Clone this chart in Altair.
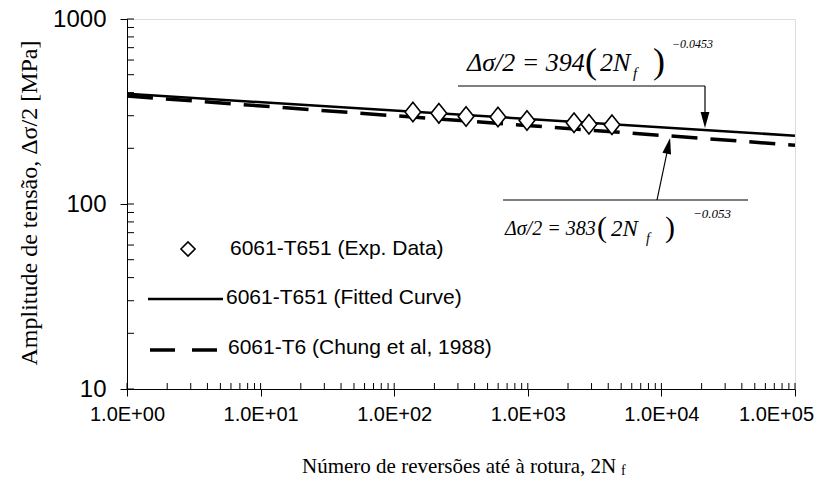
import altair as alt
import pandas as pd

# ---------------- data ----------------
exp_cycles = [138, 216, 345, 598, 986, 2218, 2870, 4266]
exp_stress = [314, 309, 297, 295, 283, 275, 270, 268]

line_cycles = [1, 100000]
fitted_stress = [394, 234]     # 6061-T651 fitted curve
t6_stress = [383, 208]         # 6061-T6 (Chung et al, 1988)

x_major = [1, 10, 100, 1000, 10000, 100000]
y_major = [10, 100, 1000]
x_minor = [k * 10 ** d for d in range(5) for k in range(2, 10)]
y_minor = [k * 10 ** d for d in range(1, 3) for k in range(2, 10)]

legend_labels = ["6061-T651 (Exp. Data)", "6061-T651 (Fitted Curve)", "6061-T6 (Chung et al, 1988)"]
x_title = "Número de reversões até à rotura, 2N"
y_title = "Amplitude de tensão, Δσ/2 [MPa]"

W, H = 668, 370
SANS = "Liberation Sans"
SERIF = "Liberation Serif"

xs = alt.Scale(type="log", domain=[1, 100000])
ys = alt.Scale(type="log", domain=[10, 1000])

xaxis = alt.Axis(values=x_major, labelExpr="'1.0E+0' + round(log(datum.value)/LN10)",
                 tickSize=7, labelFontSize=20, labelFont=SANS, labelColor="black",
                 domainColor="black", tickColor="black", title=None, grid=False,
                 labelPadding=8, labelFlush=False, labelOverlap=False,
                 labelOffset={"condition": {"test": "datum.value >= 100000", "value": -19}, "value": 0})
yaxis = alt.Axis(values=y_major, format="d", tickSize=7, labelFontSize=24, labelFont=SANS,
                 labelColor="black", domainColor="black", tickColor="black", title=None,
                 grid=False, labelPadding=14)

fit_df = pd.DataFrame({"n": line_cycles, "s": fitted_stress})
t6_df = pd.DataFrame({"n": line_cycles, "s": t6_stress})
exp_df = pd.DataFrame({"n": exp_cycles, "s": exp_stress})

fit_line = alt.Chart(fit_df).mark_line(color="black", strokeWidth=2.5).encode(
    x=alt.X("n:Q", scale=xs, axis=xaxis), y=alt.Y("s:Q", scale=ys, axis=yaxis))
t6_line = alt.Chart(t6_df).mark_line(color="black", strokeWidth=3.5, strokeDash=[26, 13]).encode(
    x=alt.X("n:Q", scale=xs), y=alt.Y("s:Q", scale=ys))

DIAMOND = "M-0.8,0L0,-1L0.8,0L0,1Z"
points = alt.Chart(exp_df).mark_point(shape=DIAMOND, size=380, filled=True, fill="white",
                                      stroke="black", strokeWidth=1.6, opacity=1).encode(
    x=alt.X("n:Q", scale=xs), y=alt.Y("s:Q", scale=ys))

# inward ticks
xt_df = pd.DataFrame({"v": x_major + x_minor})
yt_df = pd.DataFrame({"v": y_major + y_minor})
xticks_in = alt.Chart(xt_df).mark_rule(color="black", strokeWidth=1).encode(
    x=alt.X("v:Q", scale=xs), y=alt.value(H), y2=alt.value(H - 6))
yticks_in = alt.Chart(yt_df).mark_rule(color="black", strokeWidth=1).encode(
    y=alt.Y("v:Q", scale=ys), x=alt.value(0), x2=alt.value(7))

base = alt.Chart(pd.DataFrame({"a": [0]}))


def txt(t, x, y, size, font=SANS, style="normal", align="left", angle=0, baseline="middle"):
    kw = dict(text=t, fontSize=size, font=font, fontStyle=style, align=align,
              baseline=baseline, color="black")
    if angle:
        kw["angle"] = angle
    return base.mark_text(**kw).encode(x=alt.value(x), y=alt.value(y))


def rule(x1, y1, x2, y2, w=1.2):
    return base.mark_rule(color="black", strokeWidth=w).encode(
        x=alt.value(x1), y=alt.value(y1), x2=alt.value(x2), y2=alt.value(y2))


def head(x, y, angle):
    return base.mark_point(shape="M-0.55,1L0.55,1L0,-1Z", size=256, filled=True, color="black",
                           opacity=1, angle=angle).encode(x=alt.value(x), y=alt.value(y))


def equation(x0, y0, coef, expo, fs, fs2, ps, ss, sup_s, off):
    o_par, o_2n, o_f, o_close, o_sup, dy_sup = off
    return [
        txt("Δσ/2 = " + coef, x0, y0, fs, SERIF, "italic"),
        txt("(", x0 + o_par, y0 - 1, ps, SERIF),
        txt("2N", x0 + o_2n, y0, fs2, SERIF, "italic"),
        txt("f", x0 + o_f, y0 + 10, ss, SERIF, "italic"),
        txt(")", x0 + o_close, y0 - 1, ps, SERIF),
        txt(expo, x0 + o_sup, y0 + dy_sup, sup_s, SERIF, "italic"),
    ]


annotations = []
annotations += equation(340, 44, "394", "−0.0453", 26, 26, 36, 15, 12, (118, 133, 166, 186, 205, -19))
annotations += [rule(331, 67, 578, 67), rule(578, 67, 578, 100), head(578, 101, 180)]
annotations += equation(378, 210, "383", "−0.053", 20, 23, 30, 14, 13, (92, 106, 141, 160, 188, -15))
annotations += [rule(376, 181, 621, 181), rule(530, 181, 542, 124), head(541.4, 126.8, 12)]

# legend
legend = [
    base.mark_point(shape="diamond", size=200, filled=True, fill="white", stroke="black",
                    strokeWidth=1.6, opacity=1).encode(x=alt.value(61), y=alt.value(230)),
    txt(legend_labels[0], 103, 230, 21),
    rule(21, 280, 96, 280, 2.5),
    txt(legend_labels[1], 99, 279, 21),
    base.mark_rule(color="black", strokeWidth=3.5, strokeDash=[25, 17]).encode(
        x=alt.value(23), x2=alt.value(92), y=alt.value(331), y2=alt.value(331)),
    txt(legend_labels[2], 101, 329, 21),
]

titles = [
    txt(x_title, 175, 448, 21, SERIF),
    txt("f", 494, 452, 14, SERIF),
    txt(y_title, -97, 184, 24, SERIF, align="center", angle=270),
]

chart = alt.layer(fit_line, t6_line, points, xticks_in, yticks_in, *annotations, *legend, *titles).properties(
    width=W, height=H,
    autosize=alt.AutoSizeParams(type="none"),
    padding={"left": 127, "top": 19, "right": 22, "bottom": 96},
).configure_view(stroke="#666666", strokeWidth=1).configure(background="white")

chart.save("out.html", embed_options={"renderer": "svg", "actions": False})
